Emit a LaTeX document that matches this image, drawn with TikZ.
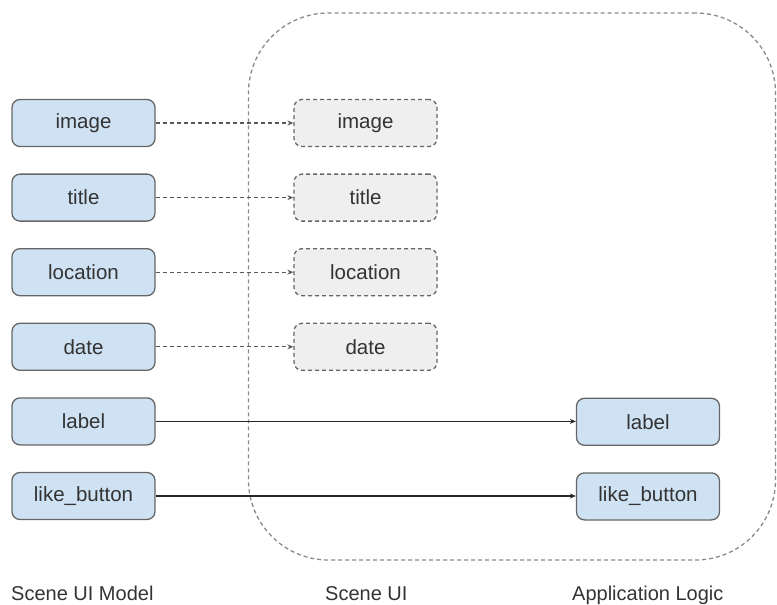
\documentclass[tikz,border=0pt]{standalone}
\usepackage{fontspec}
\setmainfont{Liberation Sans}
\usetikzlibrary{arrows.meta}
\definecolor{boxblue}{HTML}{CFE2F3}
\definecolor{boxgrey}{HTML}{EFEFEF}
\definecolor{edgegrey}{HTML}{666666}
\definecolor{frameg}{HTML}{8A8A8A}
\tikzset{
  modelbox/.style={draw=edgegrey, line width=1.3pt, fill=boxblue, rounded corners=8pt,
    minimum width=143pt, minimum height=47pt, inner sep=0pt, text=black!80,
    font=\fontsize{20.5}{24}\selectfont},
  uibox/.style={modelbox, fill=boxgrey, dash pattern=on 4pt off 3pt},
  frame/.style={draw=frameg, line width=1.3pt, dash pattern=on 4pt off 3pt, rounded corners=80pt,
    inner sep=0pt},
  dasharrow/.style={draw=black!65, line width=1.1pt, dash pattern=on 4pt off 3pt,
    -{Stealth[length=6pt,width=5pt]}},
  solidarrow/.style={draw=black!85, line width=1.1pt, -{Stealth[length=6pt,width=5pt]}},
  caption/.style={anchor=base west, inner sep=0pt, text=black!80, font=\fontsize{20}{24}\selectfont}
}
\begin{document}
\begin{tikzpicture}[x=1pt,y=-1pt]
\useasboundingbox (0,0) rectangle (777,605);
\node[frame, minimum width=527pt, minimum height=547pt] (scene) at (512,286.5) {};
% left column
\node[modelbox] (l1) at (83.5,123) {image};
\node[modelbox] (l2) at (83.5,197.6) {title};
\node[modelbox] (l3) at (83.5,272.2) {location};
\node[modelbox] (l4) at (83.5,346.8) {date};
\node[modelbox] (l5) at (83.5,421.4) {label};
\node[modelbox] (l6) at (83.5,496) {like\_button};
% middle column
\node[uibox] (m1) at (365.5,123) {image};
\node[uibox] (m2) at (365.5,197.6) {title};
\node[uibox] (m3) at (365.5,272.2) {location};
\node[uibox] (m4) at (365.5,346.8) {date};
% right column
\node[modelbox] (r5) at (648,421.8) {label};
\node[modelbox] (r6) at (648,496.4) {like\_button};
% connectors
\draw[dasharrow] (l1.east) -- (m1.west);
\draw[dasharrow] (l2.east) -- (m2.west);
\draw[dasharrow] (l3.east) -- (m3.west);
\draw[dasharrow] (l4.east) -- (m4.west);
\draw[solidarrow] (l5.east) -- (l5.east -| r5.west);
\draw[solidarrow] (l6.east) -- (l6.east -| r6.west);
% captions
\node[caption] (c1) at (11,600) {Scene UI Model};
\node[caption] (c2) at (325,600) {Scene UI};
\node[caption] (c3) at (572,600) {Application Logic};
\end{tikzpicture}
\end{document}
